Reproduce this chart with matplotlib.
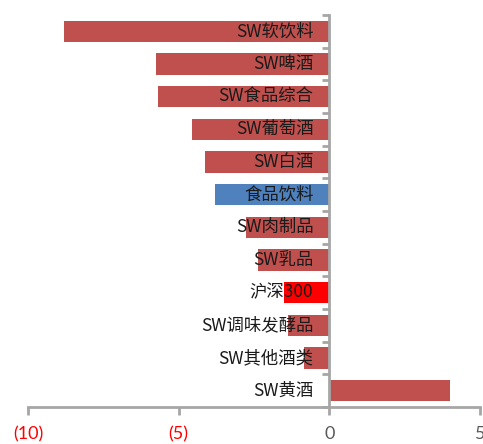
import matplotlib.pyplot as plt
import numpy as np

plt.rcParams['font.family'] = ['Noto Sans CJK SC', 'DejaVu Sans']

categories = ['SW软饮料', 'SW啤酒', 'SW食品综合', 'SW葡萄酒', 'SW白酒', '食品饮料',
              'SW肉制品', 'SW乳品', '沪深300', 'SW调味发酵品', 'SW其他酒类', 'SW黄酒']
returns = [-8.79, -5.74, -5.68, -4.57, -4.13, -3.80,
           -2.76, -2.36, -1.52, -1.36, -0.85, 4.02]
x_ticks = [-10, -5, 0, 5]
x_tick_labels = ['(10)', '(5)', '0', '5']

RED = '#C0504D'
BLUE = '#4F81BD'
AXIS_GREY = '#A6A6A6'

colors = []
for name in categories:
    if name == '食品饮料':
        colors.append(BLUE)
    elif name == '沪深300':
        colors.append('#FF0000')
    else:
        colors.append(RED)

fig = plt.figure(figsize=(4.83, 4.44), dpi=100)
ax = fig.add_axes([28 / 483, 1 - 407 / 444, 452 / 483, 392 / 444])

y = np.arange(len(categories))
ax.barh(y, returns, height=0.65, color=colors, zorder=2)

ax.set_xlim(-10, 5)
ax.set_ylim(len(categories) - 0.5, -0.5)

# category names sit just left of the zero line, over the bars
for yi, name in zip(y, categories):
    ax.text(-0.53, yi, name, ha='right', va='center', fontsize=12.5,
            color='#1a1a1a', zorder=3)

for side in ['top', 'right']:
    ax.spines[side].set_visible(False)
ax.spines['left'].set_position(('data', 0))
for side in ['left', 'bottom']:
    ax.spines[side].set_color(AXIS_GREY)
    ax.spines[side].set_linewidth(2)
    ax.spines[side].set_zorder(4)

ax.set_yticks(np.arange(-0.5, len(categories), 1.0))
ax.set_yticklabels([])
ax.tick_params(axis='y', direction='out', length=5, width=2, color=AXIS_GREY)

ax.set_xticks(x_ticks)
ax.set_xticklabels(x_tick_labels, family=['Lato', 'DejaVu Sans'], fontsize=13)
ax.tick_params(axis='x', direction='out', length=6, width=2, color=AXIS_GREY, pad=8)
for lbl, v in zip(ax.get_xticklabels(), x_ticks):
    lbl.set_color('#FF0000' if v < 0 else '#595959')

fig.savefig('out.png', dpi=100)
